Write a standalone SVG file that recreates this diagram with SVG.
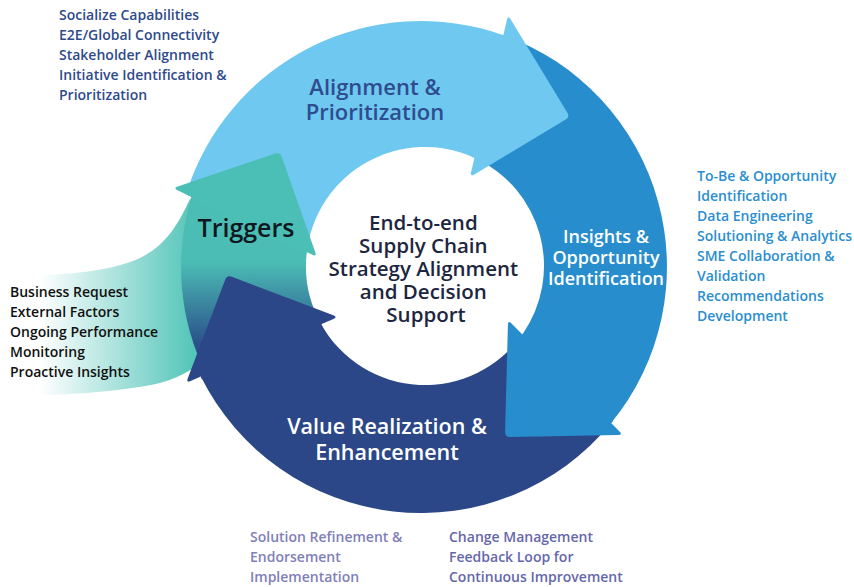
<svg xmlns="http://www.w3.org/2000/svg" width="854" height="587" viewBox="0 0 854 587">
  <defs>
    <linearGradient id="swooshFade" gradientUnits="userSpaceOnUse" x1="40" y1="0" x2="200" y2="0">
      <stop offset="0" stop-color="#ffffff"/>
      <stop offset="1" stop-color="#4EC3B7"/>
    </linearGradient>
    <linearGradient id="triggerShade" gradientUnits="userSpaceOnUse" x1="0" y1="262" x2="0" y2="345">
      <stop offset="0" stop-color="#4BBDB5"/>
      <stop offset="1" stop-color="#2B4F8A"/>
    </linearGradient>
    <style>
      .lb { fill: #6EC8F0; }
      .mb { fill: #278DCD; }
      .nv { fill: #2B4788; }
      .tl { fill: #4BBFB5; }
      text { font-family: "Open Sans", "Liberation Sans", sans-serif; font-weight: 600; }
      .list { font-size: 14px; }
      .stage { font-size: 22px; text-anchor: middle; }
      .core { font-size: 20.5px; fill: #1D2640; text-anchor: middle; }
    </style>
  </defs>

  <!-- incoming trigger swoosh fading in from the left -->
  <path id="trigger-swoosh" fill="url(#swooshFade)"
        d="M0,276 C60,276 110,272 140,258 C165,246 178,225 190,199 L260,262 L212,352 C200,365 185,376 160,383 C120,392 60,396 0,396 Z"/>

  <!-- ring segments (shafts) -->
  <g id="connectors">
    <path class="lb" d="M186.0,194.2 A246,246 0 0 1 503.3,35.2 L474.5,157.8 A119,119 0 0 0 306.8,252.1 Z"/>
    <path class="mb" d="M503.3,35.2 A246,246 0 0 1 611.1,423.1 L522.4,334.4 A119,119 0 0 0 474.5,157.8 Z"/>
    <path class="nv" d="M611.1,423.1 A246,246 0 0 1 200.8,376.6 L321.2,324.3 A119,119 0 0 0 522.4,334.4 Z"/>
    <path fill="url(#triggerShade)" d="M206.3,374.2 A240,240 0 0 1 191.5,196.9 L306.8,252.1 A119,119 0 0 0 321.2,324.3 Z"/>

    <!-- arrowheads -->
    <path class="lb" d="M500.4,34.5 L503.3,35.2 L506.9,19.9 Q508,15 510.6,19.3 L567.4,112.7 Q570,117 565.7,119.6 L474.3,174.4 Q470,177 471.1,172.1 L474.5,157.8 L471.6,157.1 Z"/>
    <path class="mb" d="M613.2,421.0 L611.1,423.1 L619.5,431.5 Q623,435 618.0,435.1 L510.0,436.9 Q505,437 505.1,432.0 L507.9,325.0 Q508,320 511.5,323.5 L522.4,334.4 L524.5,332.3 Z"/>
    <path class="nv" d="M202.0,379.4 L200.8,376.6 L190.6,381.0 Q186,383 187.8,378.3 L225.2,279.7 Q227,275 231.7,276.8 L333.3,315.2 Q338,317 333.4,319.0 L321.2,324.3 L322.4,327.1 Z"/>
    <path class="tl" d="M190.2,199.6 L191.5,196.9 L177.5,190.2 Q173,188 177.7,186.4 L275.3,153.6 Q280,152 281.7,156.7 L315.3,252.3 Q317,257 312.5,254.8 L306.8,252.1 L305.5,254.8 Z"/>
  </g>

  <g id="node-alignment">
    <text class="stage" fill="#2E4C8E"><tspan x="375" y="95">Alignment &amp;</tspan><tspan x="375" y="120">Prioritization</tspan></text>
    <text class="list" fill="#2F4A8A">
      <tspan x="59" y="20">Socialize Capabilities</tspan>
      <tspan x="59" y="40">E2E/Global Connectivity</tspan>
      <tspan x="59" y="60">Stakeholder Alignment</tspan>
      <tspan x="59" y="80">Initiative Identification &amp;</tspan>
      <tspan x="59" y="100">Prioritization</tspan>
    </text>
  </g>

  <g id="node-insights">
    <text class="stage" fill="#ffffff" style="font-size:18px"><tspan x="606" y="243">Insights &amp;</tspan><tspan x="606" y="264">Opportunity</tspan><tspan x="606" y="285">Identification</tspan></text>
    <text class="list" fill="#2A8ECF">
      <tspan x="697" y="181">To-Be &amp; Opportunity</tspan>
      <tspan x="697" y="201">Identification</tspan>
      <tspan x="697" y="221">Data Engineering</tspan>
      <tspan x="697" y="241">Solutioning &amp; Analytics</tspan>
      <tspan x="697" y="261">SME Collaboration &amp;</tspan>
      <tspan x="697" y="281">Validation</tspan>
      <tspan x="697" y="301">Recommendations</tspan>
      <tspan x="697" y="321">Development</tspan>
    </text>
  </g>

  <g id="node-value">
    <text class="stage" fill="#ffffff" style="font-size:21.5px"><tspan x="387" y="434">Value Realization &amp;</tspan><tspan x="387" y="460">Enhancement</tspan></text>
    <text class="list" fill="#7F80B8">
      <tspan x="250" y="542">Solution Refinement &amp;</tspan>
      <tspan x="250" y="562">Endorsement</tspan>
      <tspan x="250" y="582">Implementation</tspan>
    </text>
    <text class="list" fill="#6567AB">
      <tspan x="449" y="542">Change Management</tspan>
      <tspan x="449" y="562">Feedback Loop for</tspan>
      <tspan x="449" y="582">Continuous Improvement</tspan>
    </text>
  </g>

  <g id="node-triggers">
    <text class="stage" fill="#0F1720" style="font-size:25px"><tspan x="246" y="237">Triggers</tspan></text>
    <text class="list" fill="#111111">
      <tspan x="10" y="297">Business Request</tspan>
      <tspan x="10" y="317">External Factors</tspan>
      <tspan x="10" y="337">Ongoing Performance</tspan>
      <tspan x="10" y="357">Monitoring</tspan>
      <tspan x="10" y="377">Proactive Insights</tspan>
    </text>
  </g>

  <g id="node-core">
    <text class="core">
      <tspan x="426" y="230">End-to-end</tspan>
      <tspan x="426" y="253">Supply Chain</tspan>
      <tspan x="426" y="276">Strategy Alignment</tspan>
      <tspan x="426" y="299">and Decision</tspan>
      <tspan x="426" y="322">Support</tspan>
    </text>
  </g>
</svg>
